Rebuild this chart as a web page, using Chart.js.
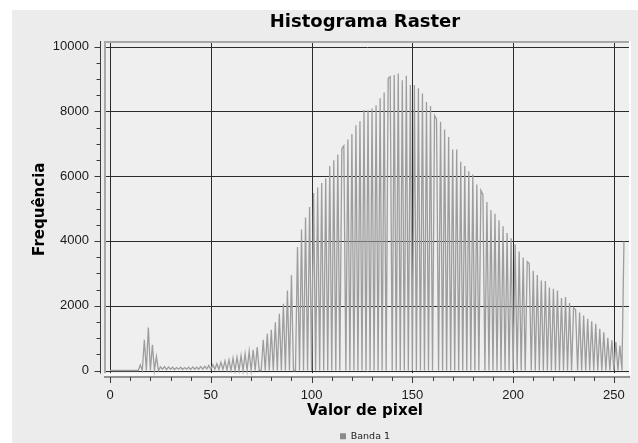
<!DOCTYPE html>
<html>
<head>
<meta charset="utf-8">
<title>Histograma Raster</title>
<script src="https://cdn.jsdelivr.net/npm/chart.js@4.4.0/dist/chart.umd.min.js"></script>
<style>
  html, body { margin: 0; padding: 0; background: #fff; }
  canvas { display: block; }
</style>
</head>
<body>
<canvas id="hist" width="638" height="443"></canvas>
<script>
// contagem de pixels por valor (0..255), banda 1
const frequencias = [
  0, 0, 0, 0, 0, 0, 0, 0, 0, 0,                          // 0-9
  0, 0, 0, 0, 0, 170, 0, 950, 0, 1330,                   // 10-19
  0, 790, 0, 430, 0, 110, 40, 120, 30, 110,              // 20-29
  40, 100, 30, 90, 40, 100, 30, 90, 40, 100,             // 30-39
  30, 110, 40, 100, 40, 120, 40, 130, 50, 150,           // 40-49
  40, 180, 40, 210, 30, 250, 30, 290, 20, 330,           // 50-59
  0, 380, 0, 410, 0, 460, 0, 520, 0, 590,                // 60-69
  0, 640, 0, 720, 0, 0, 950, 0, 1130, 0,                 // 70-79
  1260, 0, 1490, 0, 1750, 0, 2060, 0, 2470, 0,           // 80-89
  2940, 0, 0, 3810, 0, 4350, 0, 4720, 0, 5050,           // 90-99
  0, 5480, 0, 5650, 0, 5790, 0, 5930, 0, 6310,           // 100-109
  0, 6490, 0, 6670, 0, 6850, 6930, 0, 7130, 0,           // 110-119
  7300, 0, 7570, 0, 7690, 0, 8040, 0, 8030, 0,           // 120-129
  8090, 0, 8190, 0, 8400, 0, 8580, 0, 9020, 9070,        // 130-139
  0, 9120, 0, 9170, 0, 8960, 0, 9100, 0, 8810,           // 140-149
  0, 8810, 0, 8710, 0, 8550, 0, 8290, 0, 8160,           // 150-159
  0, 7870, 7760, 0, 7680, 0, 7440, 0, 7210, 0,           // 160-169
  6820, 0, 6820, 0, 6440, 0, 6310, 0, 6150, 0,           // 170-179
  6050, 0, 5740, 0, 5560, 5430, 0, 5200, 0, 4950,        // 180-189
  0, 4840, 0, 4640, 0, 4450, 0, 4240, 0, 4080,           // 190-199
  0, 3900, 0, 3670, 0, 3490, 0, 3360, 3300, 0,           // 200-209
  3080, 0, 2950, 0, 2780, 0, 2760, 0, 2560, 0,           // 210-219
  2520, 0, 2470, 0, 2240, 0, 2270, 0, 2080, 0,           // 220-229
  1940, 1870, 0, 1790, 0, 1700, 0, 1600, 0, 1520,        // 230-239
  0, 1440, 0, 1290, 0, 1180, 0, 1010, 0, 930,            // 240-249
  0, 880, 0, 770, 0, 3980                                // 250-255
];

const serie = 'Banda 1';
const xMajor = [0, 50, 100, 150, 200, 250];
const yMajor = [0, 2000, 4000, 6000, 8000, 10000];
const xMinorStep = 10;
const yMinorStep = 500;

const tickFont = { family: 'Liberation Sans', size: 13 };
const titleFont = { family: 'DejaVu Sans', size: 15, weight: 'bold' };

function range(from, to, step) {
  const out = [];
  for (let v = from; v <= to; v += step) out.push(v);
  return out;
}

// panel, sunken plot frame, grid and axis backbones with major/minor ticks
const moldura = {
  id: 'moldura',
  beforeDraw(chart) {
    const { ctx, chartArea, scales: { x, y } } = chart;
    const cl = chartArea.left + 4, cr = chartArea.right;
    const ct = chartArea.top, cb = chartArea.bottom - 4;

    ctx.save();
    ctx.fillStyle = '#ffffff';
    ctx.fillRect(0, 0, chart.width, chart.height);
    ctx.fillStyle = '#ececec';
    ctx.fillRect(12, 10, chart.width - 12, chart.height - 10);
    ctx.fillStyle = '#efefef';
    ctx.fillRect(cl, ct, cr - cl, cb - ct);

    ctx.save();
    ctx.beginPath();
    ctx.rect(cl + 2, ct + 2, cr - cl - 3, cb - ct - 2);
    ctx.clip();
    ctx.strokeStyle = '#2b2b2b';
    ctx.lineWidth = 1;
    ctx.beginPath();
    xMajor.forEach(v => {
      const px = Math.round(x.getPixelForValue(v)) + 0.5;
      ctx.moveTo(px, ct); ctx.lineTo(px, cb);
    });
    yMajor.forEach(v => {
      const py = Math.round(y.getPixelForValue(v)) + 0.5;
      ctx.moveTo(cl, py); ctx.lineTo(cr, py);
    });
    ctx.stroke();
    ctx.restore();

    ctx.lineWidth = 2;
    ctx.strokeStyle = '#a8a8a8';
    ctx.beginPath();
    ctx.moveTo(cl + 1, cb);
    ctx.lineTo(cl + 1, ct + 1);
    ctx.lineTo(cr, ct + 1);
    ctx.stroke();
    ctx.strokeStyle = '#ffffff';
    ctx.beginPath();
    ctx.moveTo(cl, cb + 1);
    ctx.lineTo(cr, cb + 1);
    ctx.lineTo(cr, ct);
    ctx.stroke();

    ctx.strokeStyle = '#3a3a3a';
    ctx.lineWidth = 1;
    const ax = chartArea.left + 0.5;
    const ay = chartArea.bottom - 0.5;
    ctx.beginPath();
    ctx.moveTo(ax, ct); ctx.lineTo(ax, cb);
    ctx.moveTo(cl, ay); ctx.lineTo(cr, ay);
    range(0, 10000, yMinorStep).forEach(v => {
      const py = Math.round(y.getPixelForValue(v)) + 0.5;
      const len = yMajor.includes(v) ? 6 : 4;
      ctx.moveTo(ax, py); ctx.lineTo(ax - len, py);
    });
    range(0, 250, xMinorStep).forEach(v => {
      const px = Math.round(x.getPixelForValue(v)) + 0.5;
      const len = xMajor.includes(v) ? 6 : 4;
      ctx.moveTo(px, ay); ctx.lineTo(px, ay + len);
    });
    ctx.stroke();
    ctx.restore();
  }
};

new Chart(document.getElementById('hist'), {
  type: 'line',
  data: {
    datasets: [{
      label: serie,
      data: frequencias.map((f, i) => ({ x: i, y: f })),
      borderColor: '#9d9d9d',
      backgroundColor: '#8a8a8a',
      borderWidth: 1.3,
      pointRadius: 0,
      tension: 0,
      fill: false
    }]
  },
  options: {
    responsive: false,
    animation: false,
    devicePixelRatio: 1,
    layout: { padding: { left: 12, right: 8, top: 10, bottom: -8 } },
    plugins: {
      tooltip: { enabled: false },
      title: {
        display: true,
        text: 'Histograma Raster',
        color: '#000',
        fullSize: false,
        font: { family: 'DejaVu Sans', size: 18, weight: 'bold' },
        padding: { top: 2, bottom: 7.4 }
      },
      legend: {
        position: 'bottom',
        fullSize: false,
        labels: {
          boxWidth: 6,
          boxHeight: 6,
          padding: 4,
          color: '#222',
          font: { family: 'DejaVu Sans', size: 9.5 },
          generateLabels: (chart) =>
            Chart.defaults.plugins.legend.labels.generateLabels(chart)
              .map(l => ({ ...l, lineWidth: 0 }))
        }
      }
    },
    scales: {
      x: {
        type: 'linear',
        min: -5,
        max: 258,
        bounds: 'data',
        afterFit: (s) => { s.height = 50; },
        afterBuildTicks: (s) => { s.ticks = xMajor.map(v => ({ value: v })); },
        grid: { display: false, drawTicks: false },
        border: { display: false },
        ticks: {
          padding: 10,
          color: '#1a1a1a',
          font: tickFont,
          autoSkip: false,
          maxRotation: 0,
          callback: (v) => String(v)
        },
        title: {
          display: true,
          text: 'Valor de pixel',
          color: '#000',
          font: titleFont,
          padding: { top: 0, bottom: 7.5 }
        }
      },
      y: {
        min: -216,
        max: 10170,
        bounds: 'data',
        afterFit: (s) => { s.width = 88; },
        afterBuildTicks: (s) => { s.ticks = yMajor.map(v => ({ value: v })); },
        grid: { display: false, drawTicks: false },
        border: { display: false },
        ticks: {
          padding: 11,
          color: '#1a1a1a',
          font: tickFont,
          autoSkip: false,
          callback: (v) => String(v)
        },
        title: {
          display: true,
          text: 'Frequência',
          color: '#000',
          font: titleFont,
          padding: { top: 19, bottom: 0 }
        }
      }
    }
  },
  plugins: [moldura]
});
</script>
</body>
</html>
